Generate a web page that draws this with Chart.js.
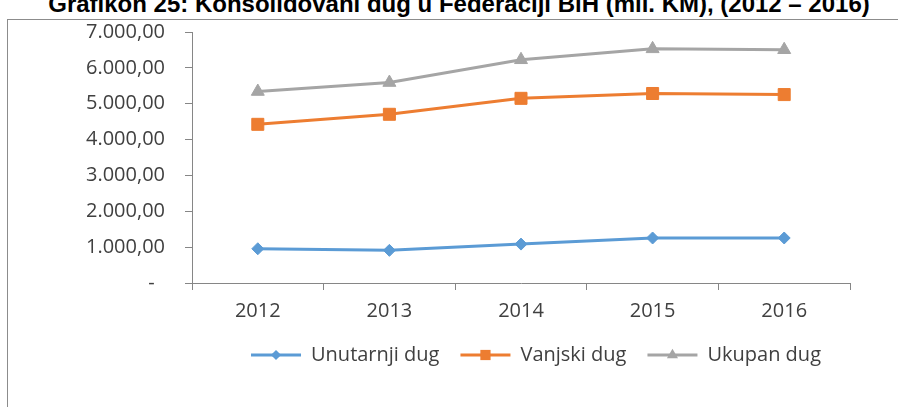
<!DOCTYPE html>
<html>
<head>
<meta charset="utf-8">
<script src="https://cdn.jsdelivr.net/npm/chart.js@4.4.1/dist/chart.umd.min.js"></script>
<style>
  html, body { margin: 0; padding: 0; background: #fff; overflow: hidden; }
  body { width: 898px; height: 407px; position: relative; }
  #title {
    position: absolute; left: 0; top: -8px; width: 918px; text-align: center;
    font: bold 24px "Liberation Sans", Arial, sans-serif; line-height: 24px;
    color: #000; white-space: nowrap;
  }
  #frame {
    position: absolute; left: 7px; top: 19px; width: 1000px; height: 500px;
    border: 1px solid #8c8c8c;
  }
  #wrap { position: absolute; left: 0; top: 0; width: 898px; height: 407px; }
</style>
</head>
<body>
<div id="title">Grafikon 25: Konsolidovani dug u Federaciji BiH (mil. KM), (2012 – 2016)</div>
<div id="frame"></div>
<div id="wrap"><canvas id="myChart"></canvas></div>
<script>
// data
const years = ['2012', '2013', '2014', '2015', '2016'];
const unutarnjiDug = [955, 910, 1085, 1255, 1255];
const vanjskiDug = [4425, 4705, 5150, 5285, 5255];
const ukupanDug = [5340, 5590, 6225, 6530, 6505];
const yTicks = [0, 1000, 2000, 3000, 4000, 5000, 6000, 7000];

const axisGray = '#868686';
const textGray = '#404040';
const font = { family: '"Open Sans", sans-serif', size: 20 };

const fmt = (v) => {
    if (v === 0) return '-  ';
    return String(v).replace(/\B(?=(\d{3})+(?!\d))/g, '.') + ',00';
};

const series = [
    { label: 'Unutarnji dug', data: unutarnjiDug, color: '#5B9BD5', pointStyle: 'rectRot', radius: 6 },
    { label: 'Vanjski dug', data: vanjskiDug, color: '#ED7D31', pointStyle: 'rect', radius: 8.5 },
    { label: 'Ukupan dug', data: ukupanDug, color: '#A5A5A5', pointStyle: 'triangle', radius: 7.5 }
];

// excel centres the legend under the plot, not the whole canvas
const legendShift = {
    id: 'legendShift',
    afterLayout(chart) {
        const legend = chart.legend;
        if (!legend) return;
        legend.left += 111;
        legend.right += 111;
    }
};

// draws the marker in the middle of each legend line
const legendMarkers = {
    id: 'legendMarkers',
    afterDraw(chart) {
        const legend = chart.legend;
        if (!legend || !legend.legendHitBoxes) return;
        const ctx = chart.ctx;
        const boxW = legend.options.labels.boxWidth;
        legend.legendHitBoxes.forEach((box, i) => {
            const s = series[i];
            const x = box.left + boxW / 2;
            const y = box.top + box.height / 2;
            const r = s.radius * 0.85;
            ctx.save();
            ctx.fillStyle = s.color;
            ctx.beginPath();
            if (s.pointStyle === 'rectRot') {
                ctx.moveTo(x, y - r); ctx.lineTo(x + r, y); ctx.lineTo(x, y + r); ctx.lineTo(x - r, y);
            } else if (s.pointStyle === 'rect') {
                const h = r * Math.SQRT1_2;
                ctx.rect(x - h, y - h, 2 * h, 2 * h);
            } else {
                ctx.moveTo(x, y - r); ctx.lineTo(x + r * 0.87, y + r / 2); ctx.lineTo(x - r * 0.87, y + r / 2);
            }
            ctx.closePath();
            ctx.fill();
            ctx.restore();
        });
    }
};

const ctx = document.getElementById('myChart').getContext('2d');

const chart = new Chart(ctx, {
    type: 'line',
    data: {
        labels: years,
        datasets: series.map(s => ({
            label: s.label,
            data: s.data,
            borderColor: s.color,
            backgroundColor: s.color,
            borderWidth: 3,
            pointStyle: s.pointStyle,
            pointRadius: s.radius,
            pointHoverRadius: s.radius,
            pointBorderWidth: 1,
            tension: 0
        }))
    },
    options: {
        responsive: true,
        maintainAspectRatio: false,
        animation: false,
        layout: { padding: { left: 0, right: 48, top: 29, bottom: 32 } },
        plugins: {
            title: { display: false },
            tooltip: { enabled: false },
            legend: {
                position: 'bottom',
                labels: {
                    boxWidth: 50,
                    boxHeight: 3,
                    padding: 21,
                    color: textGray,
                    font: font,
                    generateLabels(c) {
                        const items = Chart.defaults.plugins.legend.labels.generateLabels(c);
                        items.forEach(it => { it.lineWidth = 0; });
                        return items;
                    }
                }
            }
        },
        scales: {
            x: {
                offset: true,
                grid: { offset: true, drawOnChartArea: false, tickLength: 7, color: axisGray },
                border: { color: axisGray },
                ticks: { color: textGray, font: font, padding: 9, maxRotation: 0 },
                afterFit(scale) { scale.height = 41; }
            },
            y: {
                min: 0,
                max: 7000,
                afterBuildTicks(scale) { scale.ticks = yTicks.map(v => ({ value: v })); },
                grid: { drawOnChartArea: false, tickLength: 7, color: axisGray },
                border: { color: axisGray },
                ticks: { color: textGray, font: font, padding: 20, callback: (v) => fmt(v) },
                afterFit(scale) { scale.width = 192; }
            }
        }
    },
    plugins: [legendShift, legendMarkers]
});
</script>
</body>
</html>
